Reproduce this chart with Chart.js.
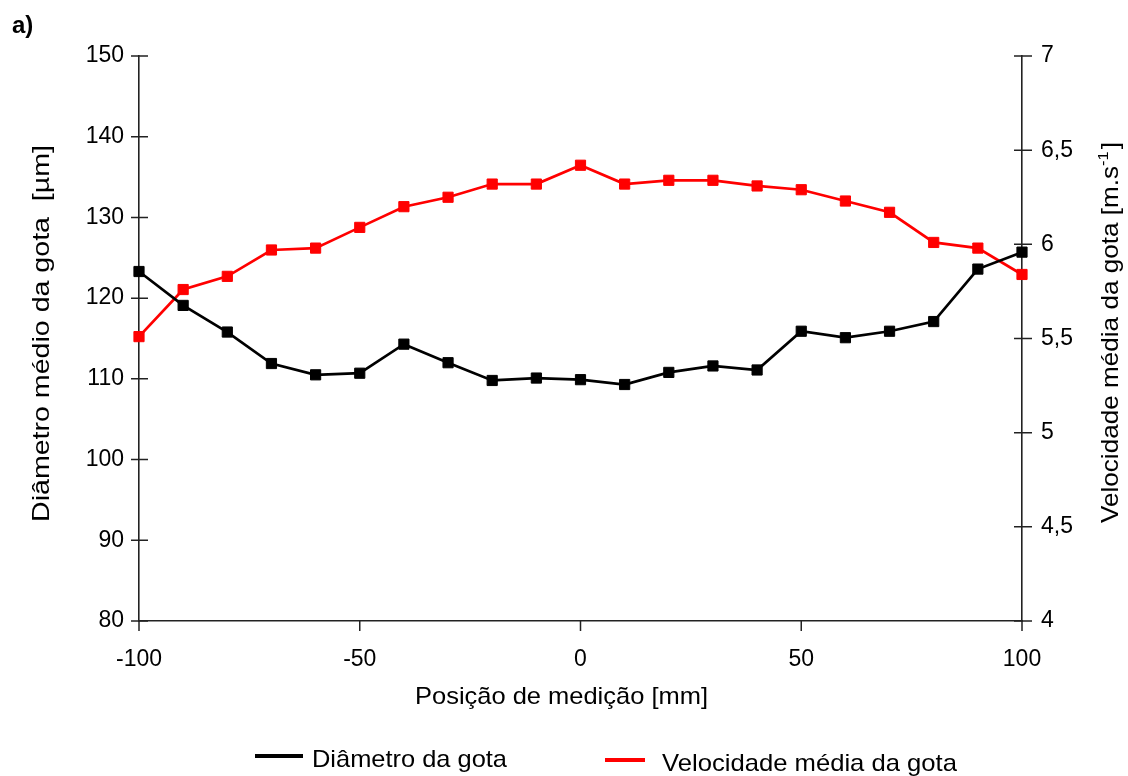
<!DOCTYPE html>
<html>
<head>
<meta charset="utf-8">
<script src="https://cdn.jsdelivr.net/npm/chart.js@4.4.1/dist/chart.umd.min.js"></script>
<style>
  html, body { margin: 0; padding: 0; background: #fff; }
  #wrap { width: 1128px; height: 776px; position: relative; }
</style>
</head>
<body>
<div id="wrap"><canvas id="chart"></canvas></div>
<script>
// Posição de medição [mm]
const positions = [-100, -90, -80, -70, -60, -50, -40, -30, -20, -10, 0, 10, 20, 30, 40, 50, 60, 70, 80, 90, 100];
// Diâmetro médio da gota [µm] (left axis)
const diameter = [123.3, 119.1, 115.8, 111.9, 110.5, 110.7, 114.3, 112.0, 109.8, 110.1, 109.9, 109.3, 110.8, 111.6, 111.1, 115.9, 115.1, 115.9, 117.1, 123.6, 125.7];
// Velocidade média da gota [m/s] (right axis)
const velocity = [5.51, 5.76, 5.83, 5.97, 5.98, 6.09, 6.20, 6.25, 6.32, 6.32, 6.42, 6.32, 6.34, 6.34, 6.31, 6.29, 6.23, 6.17, 6.01, 5.98, 5.84];

const seriesLabels = ['Diâmetro da gota', 'Velocidade média da gota'];
const xTitle = 'Posição de medição [mm]';
const leftTitle = 'Diâmetro médio da gota  [µm]';
const rightTitle = 'Velocidade média da gota [m.s';
const rightTitleSup = '-1';
const panelLabel = 'a)';

const FONT = '"Liberation Sans", Arial, sans-serif';

// draw text stretched to a given width (the source picture is a bit wider than Arial)
function stretchText(ctx, text, x, y, width) {
  const w = ctx.measureText(text).width;
  ctx.save();
  ctx.translate(x, y);
  ctx.scale(width / w, 1);
  ctx.fillText(text, 0, 0);
  ctx.restore();
}

const decorPlugin = {
  id: 'decor',
  beforeDatasetsDraw(chart) {
    const ctx = chart.ctx;
    const {x, yL, yR} = chart.scales;
    ctx.save();
    ctx.strokeStyle = '#222';
    ctx.lineWidth = 1.5;
    ctx.beginPath();
    yL.ticks.forEach(t => {
      const py = yL.getPixelForValue(t.value);
      ctx.moveTo(yL.right - 8, py); ctx.lineTo(yL.right + 9, py);
    });
    yR.ticks.forEach(t => {
      const py = yR.getPixelForValue(t.value);
      ctx.moveTo(yR.left - 8, py); ctx.lineTo(yR.left + 10, py);
    });
    x.ticks.forEach(t => {
      const px = x.getPixelForValue(t.value);
      ctx.moveTo(px, x.top); ctx.lineTo(px, x.top + 10);
    });
    ctx.stroke();
    ctx.restore();
  },
  afterDraw(chart) {
    const ctx = chart.ctx;
    ctx.save();
    ctx.fillStyle = '#000';

    // panel label
    ctx.font = 'bold 24px ' + FONT;
    ctx.textAlign = 'left';
    ctx.textBaseline = 'alphabetic';
    ctx.fillText(panelLabel, 12, 33);

    // x title
    ctx.font = '24px ' + FONT;
    stretchText(ctx, xTitle, 415, 704, 293);

    // left title, reading upwards
    ctx.save();
    ctx.translate(49, 522);
    ctx.rotate(-Math.PI / 2);
    stretchText(ctx, leftTitle, 0, 0, 377);
    ctx.restore();

    // right title with superscript
    ctx.save();
    ctx.translate(1118, 523);
    ctx.rotate(-Math.PI / 2);
    ctx.font = '24px ' + FONT;
    const w1 = ctx.measureText(rightTitle).width;
    ctx.font = '15px ' + FONT;
    const w2 = ctx.measureText(rightTitleSup).width;
    ctx.font = '24px ' + FONT;
    const w3 = ctx.measureText(']').width;
    const k = 381 / (w1 + w2 + w3 + 2);
    ctx.scale(k, 1);
    ctx.fillText(rightTitle, 0, 0);
    ctx.font = '15px ' + FONT;
    ctx.fillText(rightTitleSup, w1, -10);
    ctx.font = '24px ' + FONT;
    ctx.fillText(']', w1 + w2 + 2, 0);
    ctx.restore();

    // legend
    const items = [
      {x0: 255, x1: 303, ly: 756, tx: 312, ty: 767, tw: 195},
      {x0: 605, x1: 645, ly: 760, tx: 662, ty: 771, tw: 295}
    ];
    chart.data.datasets.forEach((ds, i) => {
      const it = items[i];
      ctx.strokeStyle = ds.borderColor;
      ctx.lineWidth = 4;
      ctx.beginPath();
      ctx.moveTo(it.x0, it.ly); ctx.lineTo(it.x1, it.ly);
      ctx.stroke();
      ctx.font = '24px ' + FONT;
      stretchText(ctx, ds.label, it.tx, it.ty, it.tw);
    });
    ctx.restore();
  }
};

const tickFont = {family: FONT, size: 23};

new Chart(document.getElementById('chart'), {
  type: 'line',
  data: {
    datasets: [
      {
        label: seriesLabels[0],
        data: positions.map((p, i) => ({x: p, y: diameter[i]})),
        yAxisID: 'yL',
        borderColor: '#000000',
        backgroundColor: '#000000',
        borderWidth: 2.7,
        pointStyle: 'rect',
        pointRadius: 7.2,
        pointBorderWidth: 1,
        tension: 0,
        clip: false
      },
      {
        label: seriesLabels[1],
        data: positions.map((p, i) => ({x: p, y: velocity[i]})),
        yAxisID: 'yR',
        borderColor: '#ff0000',
        backgroundColor: '#ff0000',
        borderWidth: 2.7,
        pointStyle: 'rect',
        pointRadius: 7.2,
        pointBorderWidth: 1,
        tension: 0,
        clip: false
      }
    ]
  },
  options: {
    responsive: true,
    maintainAspectRatio: false,
    animation: false,
    layout: {padding: {top: 56, left: 0, right: 0, bottom: 0}},
    plugins: {legend: {display: false}, tooltip: {enabled: false}},
    scales: {
      x: {
        type: 'linear',
        min: -100, max: 100,
        ticks: {stepSize: 50, font: tickFont, color: '#000', padding: 25, maxRotation: 0},
        grid: {display: false, drawTicks: false},
        border: {display: true, color: '#222', width: 1.6},
        afterFit: s => { s.height = 155; }
      },
      yL: {
        position: 'left',
        min: 80, max: 150,
        ticks: {stepSize: 10, font: tickFont, color: '#000', padding: 15},
        grid: {display: false, drawTicks: false},
        border: {display: true, color: '#222', width: 1.6},
        afterFit: s => { s.width = 139; }
      },
      yR: {
        position: 'right',
        min: 4, max: 7,
        ticks: {stepSize: 0.5, font: tickFont, color: '#000', padding: 19,
          callback: v => String(v).replace('.', ',')},
        grid: {display: false, drawTicks: false},
        border: {display: true, color: '#222', width: 1.6},
        afterFit: s => { s.width = 106; }
      }
    }
  },
  plugins: [decorPlugin]
});
</script>
</body>
</html>
